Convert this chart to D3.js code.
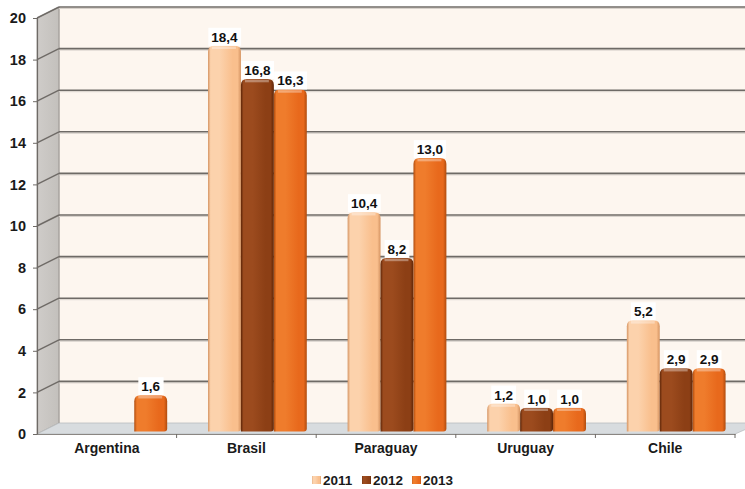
<!DOCTYPE html>
<html><head><meta charset="utf-8">
<script src="https://cdn.jsdelivr.net/npm/d3@7"></script>
<style>body{margin:0;background:#fff}svg{display:block;font-family:"Liberation Sans",Arial,sans-serif}</style>
</head><body><svg id="c" width="745" height="489"></svg>
<script>
const categories = ["Argentina","Brasil","Paraguay","Uruguay","Chile"];
const seriesNames = ["2011","2012","2013"];
const v2011 = [null,18.4,10.4,1.2,5.2];
const v2012 = [null,16.8,8.2,1.0,2.9];
const v2013 = [1.6,16.3,13.0,1.0,2.9];
const yTicks = [0,2,4,6,8,10,12,14,16,18,20];
const seriesValues = [v2011,v2012,v2013];
const colors = {
  "2011":{base:"#F9BF8D",light:"#FCD2AC",dark:"#D59462"},
  "2012":{base:"#8C3F15",light:"#9C4B1E",dark:"#5E2608"},
  "2013":{base:"#E8691C",light:"#EF7C2C",dark:"#B04C0E"}
};

const svg = d3.select("#c");
const DX = 22, DY = -11;
const x0 = 37, x1 = 735, yBase = 434, yTop = 18;
const y = d3.scaleLinear().domain([0,20]).range([yBase,yTop]);
const xc = d3.scaleBand().domain(categories).range([x0,x1]).padding(0);
const xs = d3.scaleBand().domain(seriesNames).range([0,xc.bandwidth()]).paddingInner(0).paddingOuter(0.62);

const defs = svg.append("defs");
seriesNames.forEach(s=>{
  const g = defs.append("linearGradient").attr("id","g"+s).attr("x1","0").attr("x2","1").attr("y1","0").attr("y2","0");
  const c = colors[s];
  [[0,c.dark],[0.08,c.light],[0.35,c.light],[0.75,c.base],[0.9,c.base],[1,c.dark]].forEach(([o,col])=>g.append("stop").attr("offset",o).attr("stop-color",col));
});
const lw = defs.append("linearGradient").attr("id","lw").attr("x1","0").attr("x2","1");
lw.append("stop").attr("offset",0).attr("stop-color","#CFCCC9");
lw.append("stop").attr("offset",1).attr("stop-color","#C3C0BC");

// back wall
svg.append("rect").attr("x",x0+DX).attr("y",yTop+DY).attr("width",760-(x0+DX)).attr("height",yBase-yTop).attr("fill","#FDF6EF");
// left wall
svg.append("path").attr("d",`M${x0},${yTop}L${x0+DX},${yTop+DY}L${x0+DX},${yBase+DY}L${x0},${yBase}Z`).attr("fill","url(#lw)").attr("stroke","#9a9692").attr("stroke-width",0.8);
// floor
svg.append("path").attr("d",`M${x0},${yBase}L${x0+DX},${yBase+DY}L760,${yBase+DY}L${x1},${yBase}Z`).attr("fill","#D8DCDF").attr("stroke","#B9BCBF").attr("stroke-width",0.8);
svg.append("line").attr("x1",x0+DX).attr("x2",x0+DX).attr("y1",yTop+DY).attr("y2",yBase+DY).attr("stroke","#A8A4A0").attr("stroke-width",1);

// gridlines
yTicks.forEach(t=>{
  const yy = y(t);
  if(t>0){
    svg.append("line").attr("x1",x0+DX).attr("x2",760).attr("y1",yy+DY+1.5).attr("y2",yy+DY+1.5).attr("stroke","#D8D2CC").attr("stroke-width",1);
    svg.append("line").attr("x1",x0+DX).attr("x2",760).attr("y1",yy+DY).attr("y2",yy+DY).attr("stroke","#6E6A66").attr("stroke-width",1.6);
    svg.append("line").attr("x1",x0).attr("x2",x0+DX).attr("y1",yy).attr("y2",yy+DY).attr("stroke","#6E6A66").attr("stroke-width",1.4);
  }
});

// axes
const yAxis = d3.axisLeft(y).tickValues(yTicks).tickSize(4).tickFormat(d3.format("d"));
const ga = svg.append("g").attr("transform",`translate(${x0},0)`).call(yAxis);
ga.select(".domain").attr("stroke","#6E6A66").attr("stroke-width",1.2);
ga.selectAll(".tick line").attr("stroke","#6E6A66");
ga.selectAll(".tick text").attr("font-size","14.5px").attr("font-weight","bold").attr("fill","#1a1a1a").attr("x",-11).style("font-family","'Liberation Sans',Arial,sans-serif");

const xAxis = d3.axisBottom(xc).tickSize(0).tickPadding(9);
const gx = svg.append("g").attr("transform",`translate(0,${yBase})`).call(xAxis);
gx.select(".domain").attr("stroke","#8A8682").attr("stroke-width",1.2);
gx.selectAll(".tick text").attr("font-size","14px").attr("font-weight","bold").attr("fill","#1a1a1a").style("font-family","'Liberation Sans',Arial,sans-serif");
categories.forEach((c,i)=>{
  if(i>0) svg.append("line").attr("x1",xc(c)).attr("x2",xc(c)).attr("y1",yBase).attr("y2",yBase+4).attr("stroke","#6E6A66");
});
svg.append("line").attr("x1",x1).attr("x2",x1).attr("y1",yBase).attr("y2",yBase+4).attr("stroke","#6E6A66");

// bars
const bars = [];
seriesNames.forEach((s,si)=>{
  categories.forEach((c,ci)=>{
    const v = seriesValues[si][ci];
    if(v==null) return;
    bars.push({s,c,v,x:xc(c)+xs(s)+DX/2,w:xs.bandwidth(),top:y(v)+DY/2});
  });
});
const barBottom = yBase-2.5;
function barPath(b){
  const r=6, x=b.x, w=b.w, t=b.top, bt=barBottom;
  return `M${x},${bt}L${x},${t+r}Q${x},${t} ${x+r},${t}L${x+w-r},${t}Q${x+w},${t} ${x+w},${t+r}L${x+w},${bt-3}Q${x+w},${bt} ${x+w-3},${bt}Z`;
}
const order = [];
categories.forEach(c=>seriesNames.forEach(s=>{const b=bars.find(d=>d.c===c&&d.s===s); if(b) order.push(b);}));
svg.append("g").selectAll("path").data(order).join("path")
  .attr("d",barPath).attr("fill",d=>`url(#g${d.s})`);
svg.append("g").selectAll("path").data(order).join("path")
  .attr("d",d=>`M${d.x+4},${d.top+2}L${d.x+d.w-5},${d.top+2}`)
  .attr("stroke","#fff").attr("stroke-opacity",0.35).attr("stroke-width",2.5);

// labels
const fmt = v=>v.toFixed(1).replace(".",",");
const lg = svg.append("g");
order.forEach(b=>{
  const cx = b.x+b.w/2, by = b.top-4;
  const txt = lg.append("text").attr("x",cx).attr("y",by).attr("text-anchor","middle").attr("font-size","13.5px").attr("font-weight","bold").attr("fill","#111").text(fmt(b.v));
  const bb = txt.node().getBBox();
  lg.insert("rect","text").attr("x",bb.x-3).attr("y",bb.y-2).attr("width",bb.width+6).attr("height",bb.height+3).attr("fill","#fff");
});
lg.selectAll("text").raise();

// legend
const leg = svg.append("g");
const legX = [312,362,412];
seriesNames.forEach((s,i)=>{
  leg.append("rect").attr("x",legX[i]).attr("y",476).attr("width",9).attr("height",8).attr("fill",`url(#g${s})`);
  leg.append("text").attr("x",legX[i]+11).attr("y",484.5).attr("font-size","13.5px").attr("font-weight","bold").attr("fill","#1a1a1a").text(s);
});
</script></body></html>
